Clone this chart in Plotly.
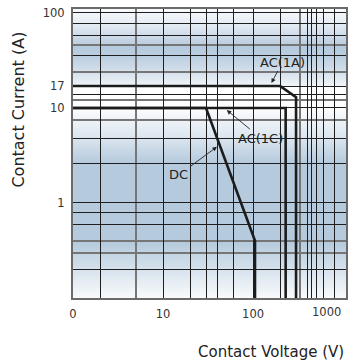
import base64
import math
import struct
import zlib

import plotly.graph_objects as go

# ---------------- data ----------------
AC1A_V = [1, 200, 300, 300]
AC1A_I = [17, 17, 13, 0.1]
AC1C_V = [1, 230, 230]
AC1C_I = [10, 10, 0.1]
DC_V = [1, 30, 105, 105]
DC_I = [10, 10, 0.4, 0.1]

X_LABEL_VALS = [1, 10, 100]
X_LABEL_TEXT = ["0", "10", "100"]
X_LAST_LABEL_VAL = 1000
X_LAST_LABEL_TEXT = "1000"
Y_LABEL_VALS = [1, 10, 17, 100]
Y_LABEL_TEXT = ["1", "10", "17", "100"]

X_GRID_DARK = [2, 20, 30, 40, 60, 200, 400, 450, 500, 600, 800]
X_GRID_GREY = [5, 330]
Y_GRID_DARK = [0.2, 0.6, 0.8, 2.6, 4.8, 14, 36, 58, 78]
Y_GRID_GREY = [0.3, 0.4, 7.4, 12, 24, 46]

X_RANGE = (1, 1076)
Y_RANGE = (0.1, 110)

# background bands: (fraction from top of plot area, colour)
BG_STOPS = [
    (0.000, "#f7f9fc"), (0.048, "#e6edf5"), (0.099, "#c9d7e6"),
    (0.131, "#b6cadf"), (0.162, "#bacde0"), (0.213, "#d3dfea"),
    (0.263, "#eef3f8"), (0.268, "#ffffff"), (0.336, "#ffffff"),
    (0.370, "#f3f6fa"), (0.446, "#dbe5ef"), (0.533, "#b5cadd"),
    (0.806, "#b5cadd"), (0.900, "#d5e1ec"), (1.000, "#f8fafc"),
]


def hex2rgb(h):
    h = h.lstrip("#")
    return tuple(int(h[i:i + 2], 16) for i in (0, 2, 4))


def bg_png(stops, n=289, w=4):
    rows = []
    for r in range(n):
        f = r / (n - 1)
        for (f0, c0), (f1, c1) in zip(stops[:-1], stops[1:]):
            if f0 <= f <= f1:
                t = 0 if f1 == f0 else (f - f0) / (f1 - f0)
                a, b = hex2rgb(c0), hex2rgb(c1)
                rows.append(tuple(round(a[k] + (b[k] - a[k]) * t) for k in range(3)))
                break
    raw = b"".join(b"\x00" + bytes(px) * w for px in rows)

    def chunk(tag, data):
        c = struct.pack(">I", len(data)) + tag + data
        return c + struct.pack(">I", zlib.crc32(tag + data) & 0xFFFFFFFF)

    png = b"\x89PNG\r\n\x1a\n"
    png += chunk(b"IHDR", struct.pack(">IIBBBBB", w, len(rows), 8, 2, 0, 0, 0))
    png += chunk(b"IDAT", zlib.compress(raw, 9))
    png += chunk(b"IEND", b"")
    return "data:image/png;base64," + base64.b64encode(png).decode()


LINE = dict(color="#1c1c1c", width=2.6)
TXT = "#222222"
FONT = "DejaVu Sans"

fig = go.Figure()
for name, xs, ys in [("AC(1A)", AC1A_V, AC1A_I), ("AC(1C)", AC1C_V, AC1C_I), ("DC", DC_V, DC_I)]:
    fig.add_trace(go.Scatter(x=xs, y=ys, mode="lines", name=name, line=LINE,
                             showlegend=False, hoverinfo="skip"))

x_ticks = sorted(X_LABEL_VALS + X_GRID_DARK)
x_text = [X_LABEL_TEXT[X_LABEL_VALS.index(v)] if v in X_LABEL_VALS else "" for v in x_ticks]
y_ticks = sorted(Y_LABEL_VALS + Y_GRID_DARK)
y_text = [Y_LABEL_TEXT[Y_LABEL_VALS.index(v)] if v in Y_LABEL_VALS else "" for v in y_ticks]

fig.update_layout(
    width=350, height=363,
    margin=dict(l=73, r=2, t=9, b=65),
    paper_bgcolor="white", plot_bgcolor="white",
    font=dict(family=FONT, color=TXT),
    xaxis=dict(type="log", range=[math.log10(X_RANGE[0]), math.log10(X_RANGE[1])],
               tickmode="array", tickvals=x_ticks, ticktext=x_text,
               showgrid=True, gridcolor="#1e1e1e", gridwidth=1.3,
               minor=dict(tickmode="array", tickvals=X_GRID_GREY, showgrid=True,
                          gridcolor="#767676", gridwidth=2, ticks=""),
               showline=True, linecolor="#6a6a6a", linewidth=2, mirror=True,
               ticks="outside", ticklen=4, tickcolor="rgba(0,0,0,0)",
               tickfont=dict(size=11.5, color="#333333", family=FONT), zeroline=False),
    yaxis=dict(type="log", range=[math.log10(Y_RANGE[0]), math.log10(Y_RANGE[1])],
               tickmode="array", tickvals=y_ticks, ticktext=y_text,
               showgrid=True, gridcolor="#1e1e1e", gridwidth=1.3,
               minor=dict(tickmode="array", tickvals=Y_GRID_GREY, showgrid=True,
                          gridcolor="#767676", gridwidth=2, ticks=""),
               showline=True, linecolor="#6a6a6a", linewidth=2, mirror=True,
               ticks="outside", ticklen=4, tickcolor="rgba(0,0,0,0)",
               tickfont=dict(size=11.5, color="#333333", family=FONT), zeroline=False),
    images=[dict(source=bg_png(BG_STOPS), xref="paper", yref="paper", x=0, y=1,
                 sizex=1, sizey=1, sizing="stretch", xanchor="left", yanchor="top",
                 layer="below")],
)

ann_font = dict(family=FONT, size=13, color=TXT)
arrow = dict(showarrow=True, arrowhead=2, arrowsize=1, arrowwidth=0.9,
             arrowcolor="#222222", standoff=0)
fig.add_annotation(x=math.log10(160), y=math.log10(18.3), text="AC(1A)", ax=11, ay=-21,
                   font=ann_font, **arrow)
fig.add_annotation(x=math.log10(51), y=math.log10(9.5), text="AC(1C)", ax=34, ay=28,
                   font=ann_font, **arrow)
fig.add_annotation(x=math.log10(39.7), y=math.log10(3.9), text="DC", ax=-38, ay=28,
                   font=ann_font, **arrow)

# last x tick label, right-aligned so it stays inside the page
fig.add_annotation(x=math.log10(X_LAST_LABEL_VAL), xref="x", y=0, yref="paper",
                   text=X_LAST_LABEL_TEXT, showarrow=False, xanchor="right",
                   yanchor="top", yshift=-5,
                   font=dict(family=FONT, size=11.5, color="#333333"))

# axis titles
fig.add_annotation(x=0, xref="paper", y=0.652, yref="paper", xshift=-54,
                   text="Contact Current (A)", textangle=-90, showarrow=False,
                   xanchor="center", yanchor="middle",
                   font=dict(family=FONT, size=16, color=TXT))
fig.add_annotation(x=1, xref="paper", y=0, yref="paper", yshift=-54,
                   text="Contact Voltage (V)", showarrow=False,
                   xanchor="right", yanchor="middle",
                   font=dict(family=FONT, size=15, color=TXT))

fig.write_html("out.html",
               config={"displayModeBar": False},
               post_script="document.body.style.margin='0';"
                           "document.body.style.overflow='hidden';")
